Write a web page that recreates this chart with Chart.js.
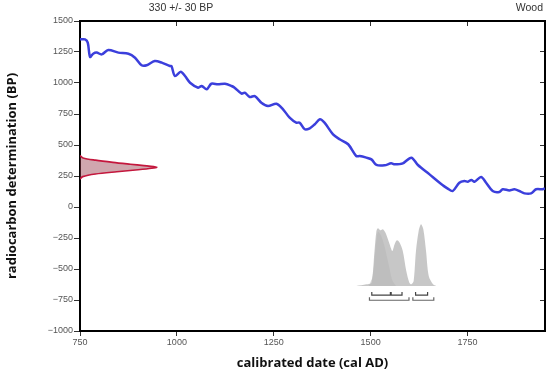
<!DOCTYPE html>
<html>
<head>
<meta charset="utf-8">
<script src="https://cdn.jsdelivr.net/npm/chart.js@4"></script>
<style>
  html, body { margin: 0; padding: 0; background: #fff; }
  #wrap { width: 550px; height: 375px; }
</style>
</head>
<body>
<div id="wrap"><canvas id="calib" width="550" height="375"></canvas></div>
<script>
// calibration curve (cal AD -> BP)
const calYears = [750,763,770,776,784,793,806,823,849,875,892,909,922,943,961,982,986,995,1010,1021,1034,1055,1064,1077,1089,1106,1124,1141,1149,1167,1175,1188,1201,1218,1235,1257,1274,1291,1308,1317,1330,1343,1356,1369,1381,1403,1420,1442,1463,1472,1489,1502,1515,1536,1553,1562,1583,1605,1622,1652,1678,1699,1712,1729,1742,1751,1760,1768,1785,1798,1815,1832,1841,1858,1871,1884,1897,1914,1927,1944,1950];
const calBP = [1352,1352,1325,1210,1236,1245,1231,1266,1245,1236,1204,1143,1143,1177,1164,1137,1137,1056,1091,1056,1002,962,976,949,994,989,994,976,962,914,922,887,895,841,815,833,788,720,680,680,627,635,667,707,680,586,546,506,411,411,398,384,339,336,352,344,352,398,339,263,196,148,129,196,210,204,218,204,242,196,129,121,143,134,143,129,110,110,143,143,150];

// measured date 330 +/- 30 BP, drawn sideways on the y axis
const dateBP = [415,396,378,360,345,334,326,320,312,300,284,266,245,225];
const dateX = [750,758,790,835,880,915,940,948,935,900,845,790,757,750];

// calibrated probability (drawn in BP units under the curve)
const probYears = [1463,1489,1502,1510,1515,1519,1525,1532,1540,1549,1556,1562,1568,1575,1583,1592,1600,1605,1611,1617,1624,1630,1636,1643,1650,1661,1669];
const probBP = [-637,-623,-610,-355,-194,-172,-188,-180,-220,-301,-355,-301,-269,-288,-355,-516,-610,-623,-597,-355,-194,-140,-180,-355,-556,-623,-637];
const probInnerYears = [1495,1505,1512,1519,1527,1537,1547,1556,1566];
const probInnerBP = [-637,-560,-350,-200,-230,-330,-470,-590,-637];

// ranges (68% and 95%)
const range68 = [[1503,1551],[1553,1581],[1616,1647]];
const range95 = [[1497,1599],[1609,1663]];

const xTicks = [750,1000,1250,1500,1750];
const yTicks = [-1000,-750,-500,-250,0,250,500,750,1000,1250,1500];

function pts(xs, ys) {
  return xs.map((x, i) => ({x: x, y: ys[i]}));
}
function brackets(ranges, level) {
  const out = [];
  ranges.forEach(r => {
    out.push({x: r[0], y: level + 25}, {x: r[0], y: level}, {x: r[1], y: level}, {x: r[1], y: level + 25}, {x: r[1], y: null});
  });
  return out;
}

const headerText = {
  id: 'headerText',
  afterDraw(chart) {
    const c = chart.ctx;
    c.save();
    c.font = '10.5px "Liberation Sans", Arial, sans-serif';
    c.fillStyle = '#333';
    c.textBaseline = 'middle';
    c.textAlign = 'center';
    c.fillText('330 +/- 30 BP', 181, 8);
    c.textAlign = 'right';
    c.fillText('Wood', 543, 8);
    c.restore();
  }
};

const tickFont = {family: '"Liberation Sans", Arial, sans-serif', size: 9};

new Chart(document.getElementById('calib'), {
  type: 'line',
  data: {
    datasets: [
      {
        label: 'probability',
        data: pts(probYears, probBP),
        borderWidth: 0,
        backgroundColor: 'rgba(180,180,180,0.75)',
        fill: {value: -637},
        tension: 0.3,
        pointRadius: 0
      },
      {
        label: 'probability inner',
        data: pts(probInnerYears, probInnerBP),
        borderWidth: 0,
        backgroundColor: 'rgba(140,140,140,0.3)',
        fill: {value: -637},
        tension: 0.3,
        pointRadius: 0
      },
      {
        label: '68%',
        data: brackets(range68, -710),
        borderColor: '#444',
        borderWidth: 1.2,
        pointRadius: 0,
        spanGaps: false
      },
      {
        label: '95%',
        data: brackets(range95, -752),
        borderColor: '#666',
        borderWidth: 1.2,
        pointRadius: 0,
        spanGaps: false
      },
      {
        label: 'curve',
        data: pts(calYears, calBP),
        borderColor: '#3b3fdc',
        borderWidth: 2.5,
        tension: 0.3,
        pointRadius: 0
      },
      {
        label: '330 +/- 30 BP',
        indexAxis: 'y',
        data: pts(dateX, dateBP),
        borderColor: '#c4173d',
        borderWidth: 1.6,
        backgroundColor: 'rgba(150,60,75,0.45)',
        fill: {value: 750},
        tension: 0.3,
        pointRadius: 0
      }
    ]
  },
  options: {
    responsive: false,
    animation: false,
    devicePixelRatio: 1,
    layout: {padding: 0},
    plugins: {legend: {display: false}, tooltip: {enabled: false}},
    scales: {
      x: {
        type: 'linear',
        position: 'bottom',
        min: 750,
        max: 1950,
        afterBuildTicks: s => { s.ticks = xTicks.map(v => ({value: v})); },
        afterFit: s => { s.height = 44; },
        border: {color: '#000', width: 2},
        grid: {drawOnChartArea: false, tickLength: 5, color: '#333'},
        ticks: {font: tickFont, color: '#555', padding: 1, maxRotation: 0,
          callback: v => String(v)},
        title: {display: true, text: 'calibrated date (cal AD)', color: '#111',
          font: {family: '"Open Sans", sans-serif', size: 13, weight: 'bold'}, padding: {top: 0, bottom: 4}}
      },
      xTop: {
        type: 'linear',
        position: 'top',
        min: 750,
        max: 1950,
        afterBuildTicks: s => { s.ticks = xTicks.map(v => ({value: v})); },
        afterFit: s => { s.height = 21; },
        border: {color: '#000', width: 2},
        grid: {drawOnChartArea: false, tickLength: -5, color: '#333'},
        ticks: {display: false}
      },
      y: {
        type: 'linear',
        position: 'left',
        min: -1000,
        max: 1500,
        afterBuildTicks: s => { s.ticks = yTicks.map(v => ({value: v})); },
        afterFit: s => { s.width = 80; },
        border: {color: '#000', width: 2},
        grid: {drawOnChartArea: false, tickLength: 6, color: '#333'},
        ticks: {font: tickFont, color: '#555', padding: 1,
          callback: v => String(v).replace('-', '\u2212')},
        title: {display: true, text: 'radiocarbon determination (BP)', color: '#111',
          font: {family: '"Open Sans", sans-serif', size: 13, weight: 'bold'}, padding: {top: 4, bottom: 0}}
      },
      yRight: {
        type: 'linear',
        position: 'right',
        min: -1000,
        max: 1500,
        afterBuildTicks: s => { s.ticks = yTicks.map(v => ({value: v})); },
        afterFit: s => { s.width = 5; },
        border: {color: '#000', width: 2},
        grid: {drawOnChartArea: false, tickLength: -5, color: '#333'},
        ticks: {display: false}
      }
    }
  },
  plugins: [headerText]
});
</script>
</body>
</html>
